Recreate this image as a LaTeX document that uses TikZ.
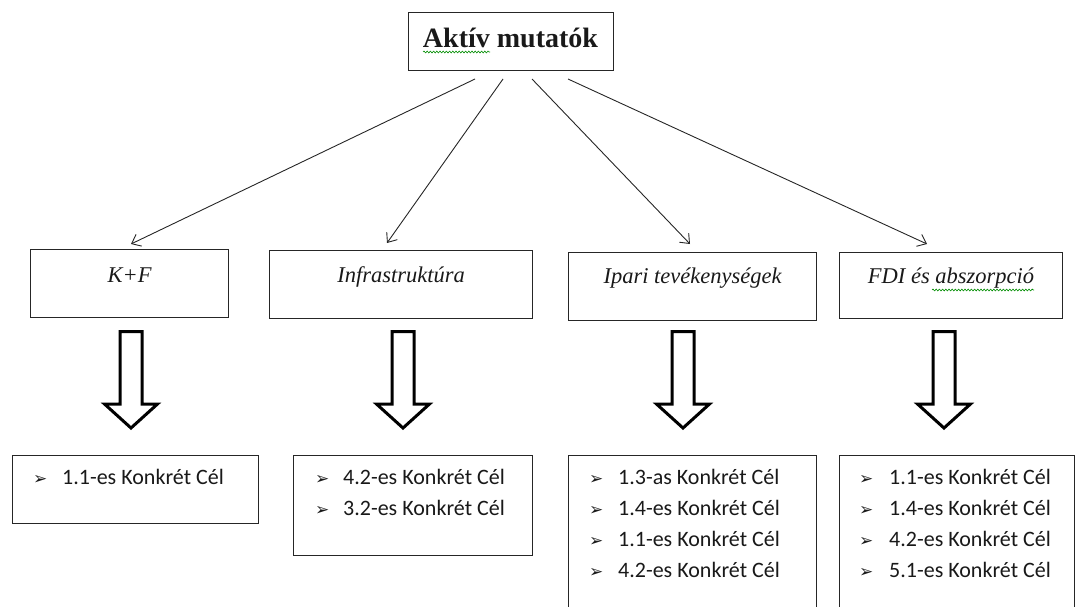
\documentclass[tikz,border=0pt]{standalone}
\usepackage{fontspec}
\setmainfont{Liberation Serif}
\newfontfamily\calibrifont{Carlito}
\newfontfamily\symfont{DejaVu Sans}
\usetikzlibrary{arrows.meta,decorations.pathmorphing}
\newcommand\fatarrow[1]{%
  \draw[fat] ({#1-11},331.5) -- ({#1+11},331.5) -- ({#1+11},404) -- ({#1+26.5},404)
    -- (#1,428) -- ({#1-26.5},404) -- ({#1-11},404) -- cycle;}
% one bullet line: #1 box, #2 name, #3 bullet x offset, #4 baseline offset, #5 text
\newcommand\listline[5]{%
  \node[bullettext] (#2bul) at ([shift={(#3pt,-#4pt)}]#1.north west) {➢};
  \node[listtext] (#2) at ([shift={(50pt,-#4pt)}]#1.north west) {#5};}
\begin{document}
\begin{tikzpicture}[x=1pt,y=-1pt,
  frame/.style={draw=black!85, line width=1.1pt, inner sep=0pt, anchor=north west},
  conn/.style={draw=black!85, line width=0.9pt, -{Straight Barb[length=8pt,width=13pt,line width=0.9pt]}},
  cattext/.style={font=\fontsize{22.5}{26}\selectfont\itshape, inner sep=0pt, anchor=base, text=black!90},
  toptext/.style={font=\fontsize{28}{32}\selectfont\bfseries, inner sep=0pt, anchor=base, text=black!90},
  listtext/.style={font=\calibrifont\fontsize{22}{26}\selectfont, inner sep=0pt, anchor=base west, text=black!90},
  bullettext/.style={font=\symfont\fontsize{17}{20}\selectfont, inner sep=0pt, anchor=base west, text=black!90},
  fat/.style={draw=black, line width=3pt, fill=white, line join=miter},
  spell/.style={draw=green!55!black, line width=0.6pt, decorate, decoration={snake, amplitude=0.9pt, segment length=3.2pt}}]
\useasboundingbox (0,0) rectangle (1075,606);
\clip (0,0) rectangle (1075,606);

% top box
\node[frame, minimum width=205pt, minimum height=58pt] (top) at (408,12) {};
\node[toptext] (toplabel) at (510.5,47) {Aktív mutatók};
\draw[spell] (423,52) -- (490,52);

% category boxes
\node[frame, minimum width=198pt, minimum height=68pt] (kf) at (30,249) {};
\node[frame, minimum width=263pt, minimum height=68pt] (inf) at (269,250) {};
\node[frame, minimum width=248pt, minimum height=68pt] (ipa) at (568,252) {};
\node[frame, minimum width=223pt, minimum height=66pt] (fdi) at (839,252) {};
\node[cattext] (kft) at ([yshift=-33pt]kf.north) {K+F};
\node[cattext] (inft) at ([yshift=-32pt]inf.north) {Infrastruktúra};
\node[cattext] (ipat) at ([yshift=-31pt]ipa.north) {Ipari tevékenységek};
\node[cattext] (fdit) at ([yshift=-31pt]fdi.north) {FDI és abszorpció};
\draw[spell] (932,290) -- (1034,290);

% connectors
\coordinate (s1) at (475,79); \coordinate (t1) at (131,244);
\coordinate (s2) at (503,79); \coordinate (t2) at (387,243);
\coordinate (s3) at (532,79); \coordinate (t3) at (690,244);
\coordinate (s4) at (568,79); \coordinate (t4) at (927,244);
\draw[conn] (s1) -- (t1);
\draw[conn] (s2) -- (t2);
\draw[conn] (s3) -- (t3);
\draw[conn] (s4) -- (t4);

% block arrows
\fatarrow{131}
\fatarrow{403}
\fatarrow{683}
\fatarrow{944}

% result boxes
\node[frame, minimum width=246pt, minimum height=68pt] (b1) at (12,455) {};
\node[frame, minimum width=239pt, minimum height=100pt] (b2) at (293,455) {};
\node[frame, minimum width=248pt, minimum height=170pt] (b3) at (568,455) {};
\node[frame, minimum width=235pt, minimum height=170pt] (b4) at (839,455) {};

\listline{b1}{b1a}{21}{29}{1.1-es Konkrét Cél}

\listline{b2}{b2a}{22}{29}{4.2-es Konkrét Cél}
\listline{b2}{b2b}{22}{60.3}{3.2-es Konkrét Cél}

\listline{b3}{b3a}{21}{29}{1.3-as Konkrét Cél}
\listline{b3}{b3b}{21}{60.3}{1.4-es Konkrét Cél}
\listline{b3}{b3c}{21}{91.6}{1.1-es Konkrét Cél}
\listline{b3}{b3d}{21}{122.9}{4.2-es Konkrét Cél}

\listline{b4}{b4a}{20}{29}{1.1-es Konkrét Cél}
\listline{b4}{b4b}{20}{60.3}{1.4-es Konkrét Cél}
\listline{b4}{b4c}{20}{91.6}{4.2-es Konkrét Cél}
\listline{b4}{b4d}{20}{122.9}{5.1-es Konkrét Cél}
\end{tikzpicture}
\end{document}
